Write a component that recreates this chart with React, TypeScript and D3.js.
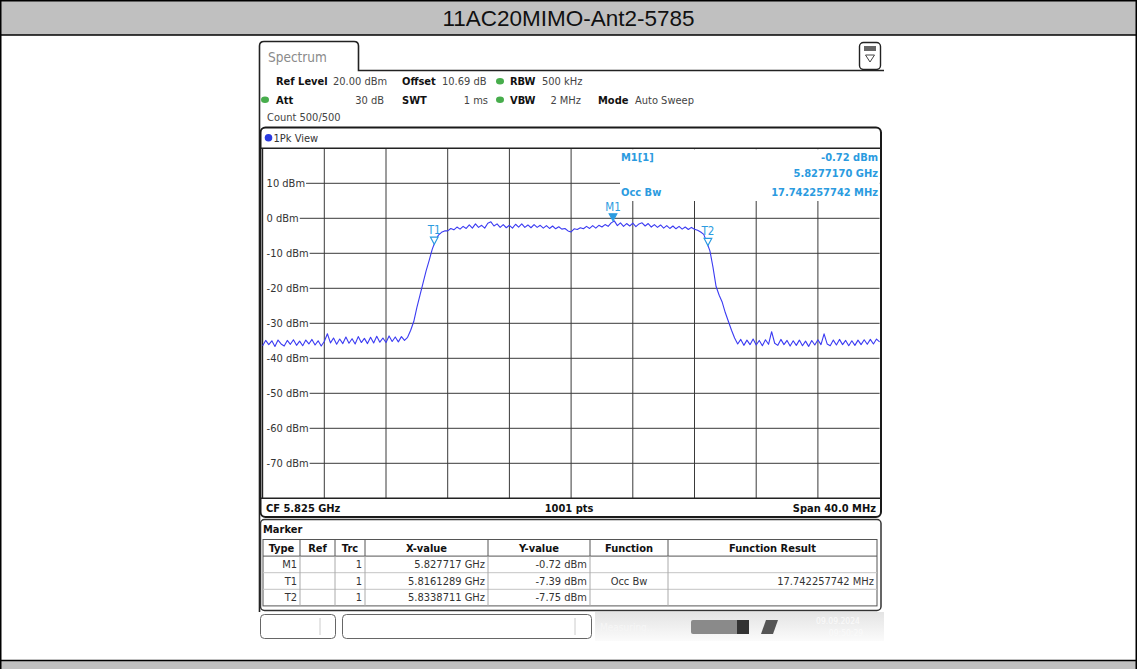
import React, { useEffect, useRef } from 'react';
import * as d3 from 'd3';

const W = 1137;
const H = 669;

const pageTitle = '11AC20MIMO-Ant2-5785';

// Sweep settings
const startGHz = 5.805;
const stopGHz = 5.845;
const refLevel = 20;
const bottomLevel = -80;

// dBm labels on the grid
const levelLabels = [10, 0, -10, -20, -30, -40, -50, -60, -70];

// Trace 1 (dBm), 201 samples across the span
const traceLevels = [
  -36.4, -34.9, -36.1, -35.0, -36.6, -34.8, -35.9, -36.5, -34.9, -36.0,
  -34.7, -36.3, -35.1, -36.4, -34.8, -35.9, -34.6, -36.2, -35.0, -36.5,
  -35.2, -33.0, -35.6, -34.2, -36.0, -34.5, -35.8, -33.9, -35.7, -34.4,
  -35.9, -33.8, -35.5, -34.3, -35.8, -34.0, -35.6, -33.7, -35.4, -34.2,
  -35.5, -33.6, -35.2, -33.9, -35.3, -33.8, -34.9,
  -34.0, -32.0, -29.5, -25.5, -22.0, -18.5, -15.0, -12.0, -8.8, -6.5,
  -4.8, -4.0, -3.6,
  -3.6, -2.9, -3.3, -2.5, -3.1, -2.3, -2.9, -1.9, -2.8, -1.6,
  -2.6, -2.0, -2.8, -1.4, -1.0, -2.2, -1.6, -2.6, -1.8, -2.7,
  -2.0, -2.8, -1.7, -2.5, -1.6, -2.6, -1.9, -2.7, -1.8, -2.6,
  -2.0, -2.8, -2.1, -2.9, -2.2, -3.0, -2.4, -3.1, -2.9, -3.6,
  -3.9, -3.0, -3.2, -2.7, -3.0, -2.3, -2.9, -2.1, -2.8, -2.0,
  -2.5, -1.8, -2.3, -1.3, -0.75, -2.1, -1.3, -2.3, -1.5, -2.2,
  -1.4, -2.4, -1.6, -1.3, -2.2, -1.5, -2.5, -1.8, -2.6, -1.9,
  -2.8, -2.1, -2.9, -2.2, -3.0, -2.3, -3.1, -2.5, -3.2, -2.6,
  -3.1,
  -3.4, -3.9, -4.6, -6.9, -9.3, -14.0, -19.5, -22.0, -24.0, -27.0,
  -29.5, -32.0, -34.2,
  -35.9, -34.6, -36.3, -34.8, -36.1, -34.5, -36.2, -34.9, -36.4, -34.7,
  -36.0, -32.4, -35.7, -36.3, -34.6, -36.1, -34.9, -36.5, -35.0, -36.3,
  -34.8, -36.4, -35.1, -36.6, -34.9, -36.2, -34.7, -36.1, -33.0, -35.9,
  -36.4, -34.8, -36.2, -34.6, -36.1, -34.9, -36.4, -35.0, -36.3, -34.8,
  -36.1, -34.7, -36.0, -34.6, -35.9, -34.5, -35.3,
];

// Markers
const markerNames = ['M1', 'T1', 'T2'];
const markerFreqs = [5.827717, 5.8161289, 5.8338711];
const markerLevels = [-0.72, -7.39, -7.75];

// Marker table
const tableHeaders = ['Type', 'Ref', 'Trc', 'X-value', 'Y-value', 'Function', 'Function Result'];
const tableRows = [
  ['M1', '', '1', '5.827717 GHz', '-0.72 dBm', '', ''],
  ['T1', '', '1', '5.8161289 GHz', '-7.39 dBm', 'Occ Bw', '17.742257742 MHz'],
  ['T2', '', '1', '5.8338711 GHz', '-7.75 dBm', '', ''],
];

const FONT = '"DejaVu Sans Condensed", "DejaVu Sans", sans-serif';
const BLUE = '#2b9be0';
const TRACE = '#3b3bf2';

// plot area on the page
const plot = { left: 262.6, right: 879.6, top: 148.3, bottom: 498.3 };

function App() {
  const svgRef = useRef<SVGSVGElement>(null);

  useEffect(() => {
    const svg = d3.select(svgRef.current);
    svg.selectAll('*').remove();

    const text = (g: any, x: number, y: number, s: string, o: any = {}) =>
      g.append('text')
        .attr('x', x)
        .attr('y', y)
        .attr('dy', '0.35em')
        .attr('font-family', o.family || FONT)
        .attr('font-size', o.size || 11)
        .attr('font-weight', o.bold ? 'bold' : 'normal')
        .attr('text-anchor', o.anchor || 'start')
        .attr('fill', o.fill || '#222')
        .text(s);

    // page frame and title band
    svg.append('rect').attr('width', W).attr('height', H).attr('fill', '#fff');
    svg.append('rect').attr('width', W).attr('height', 35).attr('fill', '#c0c0c0');
    svg.append('rect').attr('y', 661).attr('width', W).attr('height', 8).attr('fill', '#c0c0c0');
    svg.append('rect').attr('x', 0.75).attr('y', 0.75).attr('width', W - 1.5).attr('height', H + 5)
      .attr('fill', 'none').attr('stroke', '#000').attr('stroke-width', 1.5);
    svg.append('line').attr('x1', 0).attr('x2', W).attr('y1', 35).attr('y2', 35).attr('stroke', '#000').attr('stroke-width', 1.5);
    svg.append('line').attr('x1', 0).attr('x2', W).attr('y1', 660.5).attr('y2', 660.5).attr('stroke', '#000').attr('stroke-width', 1.5);
    text(svg, W / 2, 18, pageTitle, { family: '"Liberation Sans", Arial, sans-serif', size: 22.5, anchor: 'middle', fill: '#111' });

    const scr = svg.append('g');

    // tab and top bar
    scr.append('path')
      .attr('d', 'M259.5,612 V46 Q259.5,41.5 264,41.5 H354 Q358.5,41.5 358.5,46 V70.5 H884')
      .attr('fill', 'none').attr('stroke', '#222').attr('stroke-width', 1.6);
    text(scr, 268, 57, 'Spectrum', { size: 13.5, fill: '#8a8a8a' });
    scr.append('rect').attr('x', 859.5).attr('y', 42.5).attr('width', 21).attr('height', 27).attr('rx', 4)
      .attr('fill', '#fff').attr('stroke', '#222').attr('stroke-width', 1.4);
    scr.append('rect').attr('x', 864).attr('y', 46).attr('width', 12).attr('height', 5).attr('fill', '#666');
    scr.append('path').attr('d', 'M865.5,55 H874.5 L870,62 Z').attr('fill', 'none').attr('stroke', '#444');

    // setting lines
    const dot = (x: number, y: number) =>
      scr.append('ellipse').attr('cx', x).attr('cy', y).attr('rx', 4).attr('ry', 3.3).attr('fill', '#47ad4c');
    const r1 = 81.3, r2 = 99.7, r3 = 117.5;
    text(scr, 276, r1, 'Ref Level', { bold: true, fill: '#111' });
    text(scr, 333, r1, '20.00 dBm', { fill: '#444' });
    text(scr, 402, r1, 'Offset', { bold: true, fill: '#111' });
    text(scr, 442, r1, '10.69 dB', { fill: '#444' });
    dot(500, r1);
    text(scr, 510, r1, 'RBW', { bold: true, fill: '#111' });
    text(scr, 542, r1, '500 kHz', { fill: '#444' });
    dot(265, r2);
    text(scr, 276, r2, 'Att', { bold: true, fill: '#111' });
    text(scr, 384, r2, '30 dB', { fill: '#444', anchor: 'end' });
    text(scr, 402, r2, 'SWT', { bold: true, fill: '#111' });
    text(scr, 488, r2, '1 ms', { fill: '#444', anchor: 'end' });
    dot(500, r2);
    text(scr, 510, r2, 'VBW', { bold: true, fill: '#111' });
    text(scr, 581, r2, '2 MHz', { fill: '#444', anchor: 'end' });
    text(scr, 598, r2, 'Mode', { bold: true, fill: '#111' });
    text(scr, 635, r2, 'Auto Sweep', { fill: '#444' });
    text(scr, 267, r3, 'Count 500/500', { fill: '#444' });

    // diagram frame
    scr.append('rect').attr('x', 260.5).attr('y', 127.5).attr('width', 620.5).attr('height', 389.5).attr('rx', 5)
      .attr('fill', '#fff').attr('stroke', '#1a1a1a').attr('stroke-width', 2);
    scr.append('circle').attr('cx', 268.5).attr('cy', 137.7).attr('r', 3.8).attr('fill', '#2a3ae0');
    text(scr, 273.5, 137.7, '1Pk View', { fill: '#333' });

    const x = d3.scaleLinear().domain([startGHz, stopGHz]).range([plot.left, plot.right]);
    const y = d3.scaleLinear().domain([bottomLevel, refLevel]).range([plot.bottom, plot.top]);

    const grid = scr.append('g').attr('stroke', '#3a3a3a').attr('stroke-width', 1);
    const gridFreqs = d3.range(1, 10).map((i) => startGHz + (i * (stopGHz - startGHz)) / 10);
    grid.selectAll('.v').data(gridFreqs).enter().append('line')
      .attr('x1', (d) => x(d)).attr('x2', (d) => x(d))
      .attr('y1', plot.top).attr('y2', plot.bottom);

    // level labels with the grid line starting after the text
    levelLabels.forEach((lv) => {
      const t = text(scr, plot.left + 4, y(lv), `${lv} dBm`, { fill: '#333' });
      const len = (t.node() as SVGTextElement).getComputedTextLength();
      grid.append('line')
        .attr('x1', plot.left + 4 + len + 1).attr('x2', plot.right)
        .attr('y1', y(lv)).attr('y2', y(lv));
    });

    // marker info box covers the grid top right
    scr.append('rect').attr('x', 620).attr('y', plot.top + 1).attr('width', plot.right - 620)
      .attr('height', 201 - plot.top - 1).attr('fill', '#fff');
    text(scr, 621, 156.7, 'M1[1]', { fill: BLUE, bold: true, size: 11 });
    text(scr, 878, 156.7, `${markerLevels[0].toFixed(2)} dBm`, { fill: BLUE, bold: true, size: 11, anchor: 'end' });
    text(scr, 878, 173.5, `${markerFreqs[0].toFixed(7)} GHz`, { fill: BLUE, bold: true, size: 11, anchor: 'end' });
    text(scr, 621, 191.7, 'Occ Bw', { fill: BLUE, bold: true, size: 11 });
    text(scr, 878, 191.7, tableRows[1][6], { fill: BLUE, bold: true, size: 11, anchor: 'end' });

    // plot borders
    scr.append('line').attr('x1', 261).attr('x2', 880.5).attr('y1', plot.top).attr('y2', plot.top)
      .attr('stroke', '#222').attr('stroke-width', 1.4);
    scr.append('line').attr('x1', 261).attr('x2', 880.5).attr('y1', plot.bottom).attr('y2', plot.bottom)
      .attr('stroke', '#222').attr('stroke-width', 1.4);
    scr.append('line').attr('x1', plot.left).attr('x2', plot.left).attr('y1', plot.top).attr('y2', plot.bottom)
      .attr('stroke', '#222').attr('stroke-width', 1.2);

    // trace
    const step = (stopGHz - startGHz) / (traceLevels.length - 1);
    const line = d3.line<number>()
      .x((_, i) => x(startGHz + i * step))
      .y((d) => y(d));
    scr.append('path').datum(traceLevels)
      .attr('d', line)
      .attr('fill', 'none').attr('stroke', TRACE).attr('stroke-width', 1.1)
      .attr('stroke-linejoin', 'round');

    // markers
    markerNames.forEach((name, i) => {
      const mx = x(markerFreqs[i]);
      const my = y(markerLevels[i]);
      const filled = name.startsWith('M');
      scr.append('path')
        .attr('d', `M${mx - 3.8},${my - 7} H${mx + 3.8} L${mx},${my} Z`)
        .attr('fill', filled ? BLUE : '#fff').attr('stroke', BLUE).attr('stroke-width', 1.2);
      text(scr, mx, my - 14, name, { fill: BLUE, size: 11.5, anchor: 'middle' });
    });

    // footer of the diagram
    text(scr, 266, 508, 'CF 5.825 GHz', { bold: true, fill: '#111' });
    text(scr, 569, 508, '1001 pts', { bold: true, fill: '#111', anchor: 'middle' });
    text(scr, 876, 508, 'Span 40.0 MHz', { bold: true, fill: '#111', anchor: 'end' });

    // marker table
    scr.append('rect').attr('x', 260.5).attr('y', 519.5).attr('width', 620.5).attr('height', 91).attr('rx', 4)
      .attr('fill', '#fff').attr('stroke', '#333').attr('stroke-width', 1.5);
    text(scr, 263, 529, 'Marker', { bold: true, fill: '#111' });
    const cols = [263, 300, 335, 365, 488, 590, 668, 877];
    const rowTop = 539.5;
    const rowH = 16.6;
    const tb = scr.append('g');
    tb.append('rect').attr('x', cols[0]).attr('y', rowTop).attr('width', cols[7] - cols[0]).attr('height', rowH * 4)
      .attr('fill', 'none').attr('stroke', '#555');
    tb.append('line').attr('x1', cols[0]).attr('x2', cols[7]).attr('y1', rowTop + rowH).attr('y2', rowTop + rowH)
      .attr('stroke', '#555');
    [2, 3].forEach((r) => {
      tb.append('line').attr('x1', cols[0]).attr('x2', cols[7]).attr('y1', rowTop + rowH * r).attr('y2', rowTop + rowH * r)
        .attr('stroke', '#c4c4c4');
    });
    cols.slice(1, 7).forEach((cx) => {
      tb.append('line').attr('x1', cx).attr('x2', cx).attr('y1', rowTop).attr('y2', rowTop + rowH)
        .attr('stroke', '#555');
      tb.append('line').attr('x1', cx).attr('x2', cx).attr('y1', rowTop + rowH).attr('y2', rowTop + rowH * 4)
        .attr('stroke', '#aaa');
    });
    tableHeaders.forEach((h, c) => {
      text(tb, (cols[c] + cols[c + 1]) / 2, rowTop + rowH / 2, h, { bold: true, fill: '#111', anchor: 'middle' });
    });
    tableRows.forEach((row, r) => {
      const cy = rowTop + rowH * (r + 1) + rowH / 2;
      row.forEach((v, c) => {
        if (!v) return;
        if (c === 5) text(tb, (cols[c] + cols[c + 1]) / 2, cy, v, { fill: '#333', anchor: 'middle' });
        else text(tb, cols[c + 1] - 3, cy, v, { fill: '#333', anchor: 'end' });
      });
    });

    // status bar
    const st = scr.append('g');
    st.append('rect').attr('x', 260.5).attr('y', 614.5).attr('width', 75).attr('height', 24).attr('rx', 4)
      .attr('fill', '#fff').attr('stroke', '#666');
    st.append('line').attr('x1', 320).attr('x2', 320).attr('y1', 618).attr('y2', 635).attr('stroke', '#ccc');
    st.append('rect').attr('x', 342.5).attr('y', 614.5).attr('width', 249).attr('height', 24).attr('rx', 4)
      .attr('fill', '#fff').attr('stroke', '#666');
    st.append('line').attr('x1', 575).attr('x2', 575).attr('y1', 618).attr('y2', 635).attr('stroke', '#ccc');
    const grad = svg.append('defs').append('linearGradient').attr('id', 'stg').attr('x1', 0).attr('x2', 0).attr('y1', 0).attr('y2', 1);
    grad.append('stop').attr('offset', 0).attr('stop-color', '#e4e4e4');
    grad.append('stop').attr('offset', 1).attr('stop-color', '#fbfbfb');
    st.append('rect').attr('x', 595).attr('y', 612).attr('width', 289).attr('height', 29).attr('fill', 'url(#stg)');
    text(st, 600, 627, 'Measuring...', { fill: '#f6f6f6', size: 10 });
    st.append('rect').attr('x', 691).attr('y', 620).attr('width', 58).attr('height', 14).attr('rx', 2).attr('fill', '#8a8a8a');
    st.append('rect').attr('x', 737).attr('y', 620).attr('width', 12).attr('height', 14).attr('fill', '#333');
    st.append('path').attr('d', 'M761,634 L766,620 H778 L773,634 Z').attr('fill', '#555');
    text(st, 838, 621, '09.09.2024', { fill: '#fafafa', size: 8.5, anchor: 'middle' });
    text(st, 846, 633, '09:50:29', { fill: '#fafafa', size: 8.5, anchor: 'middle' });
  }, []);

  return <svg ref={svgRef} width={W} height={H} style={{ position: 'absolute', left: 0, top: 0 }} />;
}

export default App;
